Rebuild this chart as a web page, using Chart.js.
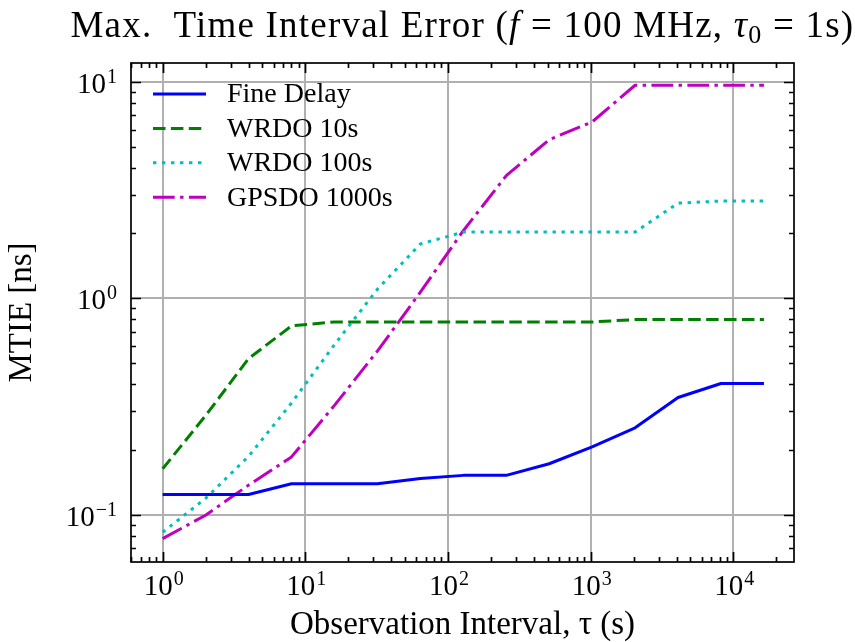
<!DOCTYPE html>
<html>
<head>
<meta charset="utf-8">
<script src="https://cdn.jsdelivr.net/npm/chart.js@4.4.1/dist/chart.umd.min.js"></script>
<style>
  html, body { margin: 0; padding: 0; background: #ffffff; }
  #wrap { width: 855px; height: 642px; }
</style>
</head>
<body>
<div id="wrap"><canvas id="c" width="855" height="642"></canvas></div>
<script>
// ---------- data ----------
const tau = [1, 2, 4, 8, 16, 32, 64, 128, 256, 512, 1024, 2048, 4096, 8192, 16384];
const fineDelay = [0.124, 0.124, 0.124, 0.139, 0.139, 0.139, 0.147, 0.152, 0.152, 0.172, 0.206, 0.252, 0.348, 0.404, 0.404];
const wrdo10    = [0.163, 0.287, 0.526, 0.745, 0.777, 0.777, 0.777, 0.777, 0.777, 0.777, 0.777, 0.797, 0.797, 0.797, 0.797];
const wrdo100   = [0.083, 0.119, 0.186, 0.328, 0.61, 1.10, 1.78, 2.02, 2.02, 2.02, 2.02, 2.02, 2.75, 2.81, 2.81];
const gpsdo     = [0.0776, 0.0995, 0.137, 0.185, 0.32, 0.57, 1.066, 2.05, 3.68, 5.40, 6.52, 9.63, 9.63, 9.63, 9.63];
const seriesNames = ['Fine Delay', 'WRDO 10s', 'WRDO 100s', 'GPSDO 1000s'];

// tick labels: base "10" with these exponents
const xTickValues = [1, 10, 100, 1000, 10000];
const xTickExponents = ['0', '1', '2', '3', '4'];
const yTickValues = [0.1, 1, 10];
const yTickExponents = ['\u22121', '0', '1'];

// title pieces (plain / italic / subscript)
const titleParts = [
  { text: 'Max.  Time Interval Error (', kind: 'plain' },
  { text: 'f', kind: 'italic' },
  { text: ' = 100 MHz, ', kind: 'plain' },
  { text: '\u03C4', kind: 'italic' },
  { text: '0', kind: 'sub' },
  { text: ' = 1s)', kind: 'plain' }
];
const xTitle = 'Observation Interval, \u03C4 (s)';
const yTitle = 'MTIE [ns]';

// ---------- styling ----------
const FONT = "'Liberation Serif', 'DejaVu Serif', serif";
const styles = [
  { color: '#0000ff', dash: [] },
  { color: '#008000', dash: [12.5, 5.4] },
  { color: '#00bfbf', dash: [3.4, 5.6] },
  { color: '#bf00bf', dash: [21.7, 5.4, 3.4, 5.4] }
];
const allSeries = [fineDelay, wrdo10, wrdo100, gpsdo];

const datasets = allSeries.map((vals, i) => ({
  label: seriesNames[i],
  data: tau.map((t, j) => ({ x: t, y: vals[j] })),
  borderColor: styles[i].color,
  backgroundColor: styles[i].color,
  borderDash: styles[i].dash,
  borderWidth: 3,
  borderCapStyle: 'butt',
  borderJoinStyle: 'round',
  pointRadius: 0,
  tension: 0,
  fill: false
}));

function minorValues(min, max) {
  const out = [];
  for (let k = Math.floor(Math.log10(min)); k <= Math.ceil(Math.log10(max)); k++) {
    for (let m = 1; m <= 9; m++) {
      const v = m * Math.pow(10, k);
      if (v >= min && v <= max) out.push({ v, major: m === 1 });
    }
  }
  return out;
}

const BASE_PX = 29, EXP_PX = 20, EXP_RAISE = 10;
function powWidth(ctx, exp) {
  ctx.font = BASE_PX + 'px ' + FONT;
  const wb = ctx.measureText('10').width;
  ctx.font = EXP_PX + 'px ' + FONT;
  const we = ctx.measureText(exp).width;
  return { wb, we, w: wb + we + 1 };
}
function drawPow(ctx, left, baseline, exp) {
  const m = powWidth(ctx, exp);
  ctx.font = BASE_PX + 'px ' + FONT;
  ctx.fillText('10', left, baseline);
  ctx.font = EXP_PX + 'px ' + FONT;
  ctx.fillText(exp, left + m.wb + 1, baseline - EXP_RAISE);
}

const decor = {
  id: 'decor',
  afterDatasetsDraw(chart) {
    const { ctx, chartArea: a, scales } = chart;
    const x = scales.x, y = scales.y;
    ctx.save();
    ctx.setLineDash([]);
    ctx.strokeStyle = '#000';
    ctx.lineWidth = 1.7;
    ctx.lineCap = 'butt';
    // x ticks (bottom + top, inward)
    minorValues(x.min, x.max).forEach(t => {
      const px = Math.round(x.getPixelForValue(t.v)) + 0.5;
      const len = t.major ? 10 : 5;
      ctx.beginPath();
      ctx.moveTo(px, a.bottom); ctx.lineTo(px, a.bottom - len);
      ctx.moveTo(px, a.top); ctx.lineTo(px, a.top + len);
      ctx.stroke();
    });
    // y ticks (left + right, inward)
    minorValues(y.min, y.max).forEach(t => {
      const py = Math.round(y.getPixelForValue(t.v)) + 0.5;
      const len = t.major ? 10 : 5;
      ctx.beginPath();
      ctx.moveTo(a.left, py); ctx.lineTo(a.left + len, py);
      ctx.moveTo(a.right, py); ctx.lineTo(a.right - len, py);
      ctx.stroke();
    });
    // frame
    ctx.strokeRect(a.left, a.top, a.right - a.left, a.bottom - a.top);

    // tick labels 10^n
    ctx.fillStyle = '#000';
    ctx.textAlign = 'left';
    ctx.textBaseline = 'alphabetic';
    xTickValues.forEach((v, i) => {
      const cx = x.getPixelForValue(v);
      const m = powWidth(ctx, xTickExponents[i]);
      drawPow(ctx, cx - m.w / 2 + 1, a.bottom + 33, xTickExponents[i]);
    });
    yTickValues.forEach((v, i) => {
      const cy = y.getPixelForValue(v);
      const m = powWidth(ctx, yTickExponents[i]);
      drawPow(ctx, a.left - 14 - m.w, cy + 11, yTickExponents[i]);
    });

    // legend (no frame), upper left
    const x0 = a.left + 22, x1 = a.left + 75, xt = a.left + 96;
    const y0 = a.top + 31, dy = 34.4;
    chart.data.datasets.forEach((ds, i) => {
      const yy = y0 + i * dy;
      ctx.beginPath();
      ctx.setLineDash(ds.borderDash || []);
      ctx.strokeStyle = ds.borderColor;
      ctx.lineWidth = ds.borderWidth;
      ctx.moveTo(x0, yy); ctx.lineTo(x1, yy);
      ctx.stroke();
      ctx.setLineDash([]);
      ctx.fillStyle = '#000';
      ctx.font = '28px ' + FONT;
      ctx.textBaseline = 'middle';
      ctx.textAlign = 'left';
      ctx.fillText(ds.label, xt, yy + 1);
    });

    // title, centred over the plot area
    const fonts = {
      plain: '37px ' + FONT,
      italic: 'italic 37px ' + FONT,
      sub: '26px ' + FONT
    };
    const targetW = 784;
    let natural = 0, nChars = 0;
    titleParts.forEach(p => {
      ctx.font = fonts[p.kind];
      natural += ctx.measureText(p.text).width;
      nChars += p.text.length;
    });
    let spacing = 0;
    if ('letterSpacing' in ctx) spacing = Math.min(1.6, Math.max(0, (targetW - natural) / nChars));
    const total = natural + spacing * nChars;
    let cx = (a.left + a.right) / 2 - total / 2;
    const base = 37;
    ctx.textBaseline = 'alphabetic';
    titleParts.forEach(p => {
      ctx.font = fonts[p.kind];
      if (spacing) ctx.letterSpacing = spacing.toFixed(2) + 'px';
      const w = ctx.measureText(p.text).width;
      ctx.fillText(p.text, cx, p.kind === 'sub' ? base + 6 : base);
      cx += w;
    });
    if (spacing) ctx.letterSpacing = '0px';
    ctx.restore();
  }
};

new Chart(document.getElementById('c'), {
  type: 'line',
  data: { datasets },
  plugins: [decor],
  options: {
    responsive: false,
    devicePixelRatio: 1,
    animation: false,
    layout: { padding: { left: 0, right: 61, top: 63, bottom: 0 } },
    plugins: {
      legend: { display: false },
      tooltip: { enabled: false },
      title: { display: false }
    },
    scales: {
      x: {
        type: 'logarithmic',
        position: 'bottom',
        min: 0.6154,
        max: 26617,
        afterBuildTicks: s => { s.ticks = xTickValues.map(v => ({ value: v })); },
        afterFit: s => { s.height = 80; },
        ticks: { display: false },
        grid: { color: '#b0b0b0', lineWidth: 2, drawTicks: false },
        border: { display: false },
        title: {
          display: true,
          text: xTitle,
          color: '#000',
          font: { family: FONT, size: 33, lineHeight: 1.0 },
          padding: { top: 0, bottom: 0 }
        }
      },
      y: {
        type: 'logarithmic',
        position: 'left',
        min: 0.0605,
        max: 12.2,
        afterBuildTicks: s => { s.ticks = yTickValues.map(v => ({ value: v })); },
        afterFit: s => { s.width = 131; },
        ticks: { display: false },
        grid: { color: '#b0b0b0', lineWidth: 2, drawTicks: false },
        border: { display: false },
        title: {
          display: true,
          text: yTitle,
          color: '#000',
          font: { family: FONT, size: 33, lineHeight: 1.0 },
          padding: { top: 6, bottom: 0 }
        }
      }
    }
  }
});
</script>
</body>
</html>
